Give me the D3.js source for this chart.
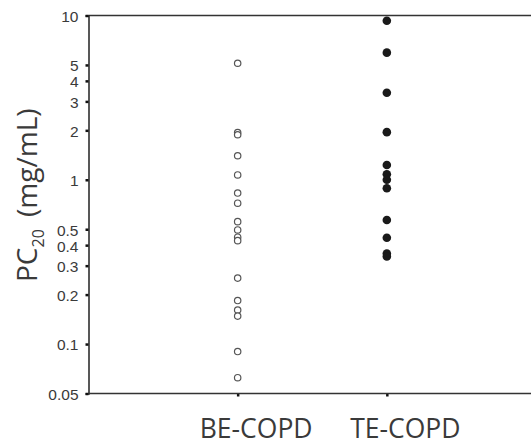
<!DOCTYPE html>
<html><head><meta charset="utf-8">
<script src="https://cdn.jsdelivr.net/npm/d3@7"></script>
<style>html,body{margin:0;padding:0;background:#fff;}svg{display:block;}</style>
</head><body>
<svg id="chart" width="531" height="443"></svg>
<script>
const categories = ["BE-COPD", "TE-COPD"];
const beValues = [5.12, 1.94, 1.88, 1.40, 1.07, 0.83, 0.72, 0.556, 0.495, 0.447, 0.426, 0.252, 0.184, 0.161, 0.148, 0.090, 0.0624];
const teValues = [9.29, 5.94, 3.39, 1.95, 1.23, 1.08, 1.0, 0.888, 0.569, 0.444, 0.356, 0.341];
const yTicks = [0.05, 0.1, 0.2, 0.3, 0.4, 0.5, 1, 2, 3, 4, 5, 10];
const yTickLabels = ["0.05", "0.1", "0.2", "0.3", "0.4", "0.5", "1", "2", "3", "4", "5", "10"];

const svg = d3.select("#chart");
const mLeft = 88.5, mRight = 531, mTop = 15.5, mBottom = 393.5;

const x = d3.scalePoint().domain(categories).range([mLeft, 536]).padding(1);
const y = d3.scaleLog().domain([0.05, 10]).range([mBottom, mTop]);

// top frame line
svg.append("line").attr("x1", mLeft).attr("x2", mRight).attr("y1", mTop).attr("y2", mTop)
  .attr("stroke", "#333").attr("stroke-width", 1.3);

// y axis
const yAxis = d3.axisLeft(y).tickValues(yTicks)
  .tickFormat((d, i) => yTickLabels[i]).tickSize(3).tickPadding(7);
const gy = svg.append("g").attr("transform", `translate(${mLeft},0)`).call(yAxis);
gy.select(".domain").attr("stroke", "#222").attr("stroke-width", 1.5);
gy.selectAll(".tick line").attr("stroke", "#111").attr("stroke-width", 2.5);
gy.selectAll(".tick text").attr("fill", "#3a3a3a").attr("dy", "0.38em")
  .style("font-family", "'Liberation Sans', Arial, sans-serif").style("font-size", "15.5px");

// x axis
const xAxis = d3.axisBottom(x).tickSize(3).tickPadding(23);
const gx = svg.append("g").attr("transform", `translate(0,${mBottom})`).call(xAxis);
gx.select(".domain").remove();
gx.append("line").attr("x1", mLeft).attr("x2", mRight).attr("y1", 0).attr("y2", 0)
  .attr("stroke", "#333").attr("stroke-width", 1.3);
gx.selectAll(".tick line").attr("stroke", "#111").attr("stroke-width", 2.5);
gx.selectAll(".tick text").attr("fill", "#3a3a3a").attr("dx", 18)
  .style("font-family", "'Open Sans', sans-serif").style("font-size", "26.5px");

// y-axis title
const yl = svg.append("text")
  .attr("transform", `translate(37,282) rotate(-90)`)
  .attr("text-anchor", "start").attr("fill", "#3a3a3a")
  .style("font-family", "'Open Sans', sans-serif").style("font-size", "28px");
yl.append("tspan").text("PC");
yl.append("tspan").text("20").style("font-size", "16px").attr("dy", "7");
yl.append("tspan").text("\u00a0(mg/mL)").attr("dy", "-7").attr("dx", 5);

// points
svg.append("g").selectAll("circle").data(beValues).join("circle")
  .attr("cx", x("BE-COPD")).attr("cy", d => y(d)).attr("r", 3.2)
  .attr("fill", "#fff").attr("stroke", "#555").attr("stroke-width", 1.2);
svg.append("g").selectAll("circle").data(teValues).join("circle")
  .attr("cx", x("TE-COPD")).attr("cy", d => y(d)).attr("r", 4.3)
  .attr("fill", "#1a1a1a");
</script>
</body></html>
